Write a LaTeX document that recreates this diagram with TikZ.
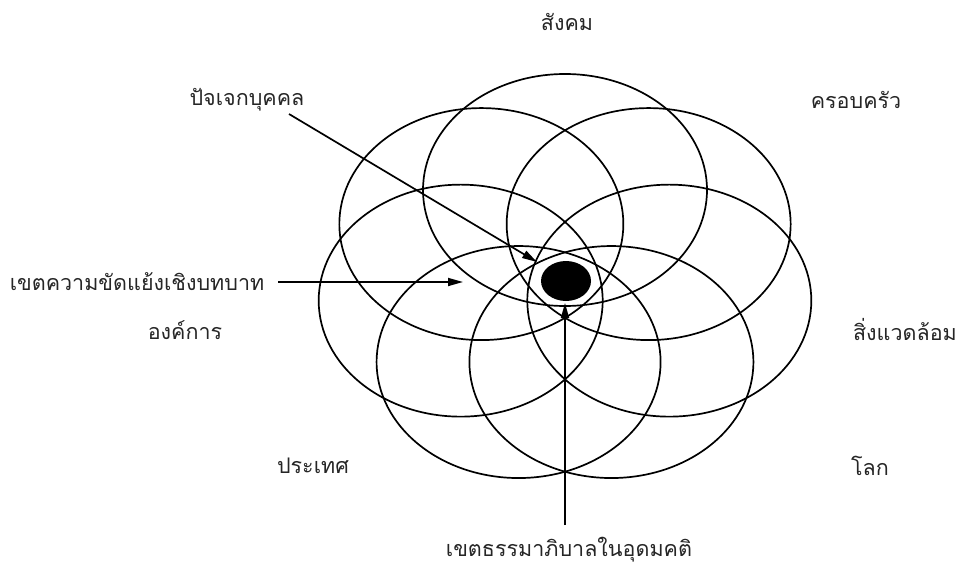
\documentclass[tikz,border=0pt]{standalone}
\usepackage{fontspec}
\newfontfamily\thaifont[Script=Thai]{Loma}
\usetikzlibrary{arrows.meta}

\tikzset{
  ring/.style={line width=1.7pt},
  lbl/.style={font=\thaifont\fontsize{21.5}{26}\selectfont, text=black!85, inner sep=0pt},
  pointer/.style={line width=1.7pt, -{Triangle[length=15pt, width=8pt]}}
}

\begin{document}
\begin{tikzpicture}[x=1pt, y=-1pt]
  \useasboundingbox (0, 0) rectangle (967, 567);
  % seven rings round the centre
  \foreach \ang in {90, 38.57, -12.86, -64.29, -115.71, -167.14, 141.43} {
    \draw[ring] ({565 + 107*cos(\ang)}, {280.5 - 90.5*sin(\ang)}) ellipse [x radius=142, y radius=116];
  }
  \fill (566, 281) ellipse [x radius=25, y radius=20];

  % labels
  \node[lbl] (society) at (567, 22) {สังคม};
  \node[lbl] (family) at (856, 100) {ครอบครัว};
  \node[lbl] (environ) at (905, 330) {สิ่งแวดล้อม};
  \node[lbl] (world) at (870, 466) {โลก};
  \node[lbl] (nation) at (313, 466) {ประเทศ};
  \node[lbl] (org) at (185, 330) {องค์การ};
  \node[lbl] (person) at (247, 100) {ปัจเจกบุคคล};
  \node[lbl] (conflict) at (137, 282) {เขตความขัดแย้งเชิงบทบาท};
  \node[lbl] (ideal) at (569, 550) {เขตธรรมาภิบาลในอุดมคติ};

  % arrows
  \coordinate (personend) at (289, 114);
  \coordinate (persontip) at (537, 262);
  \coordinate (conflictend) at (278, 282);
  \coordinate (conflicttip) at (463, 282);
  \coordinate (idealend) at (565, 525);
  \coordinate (idealtip) at (565, 303);
  \draw[pointer] (personend) -- (persontip);
  \draw[pointer] (conflictend) -- (conflicttip);
  \draw[pointer] (idealend) -- (idealtip);
\end{tikzpicture}
\end{document}
